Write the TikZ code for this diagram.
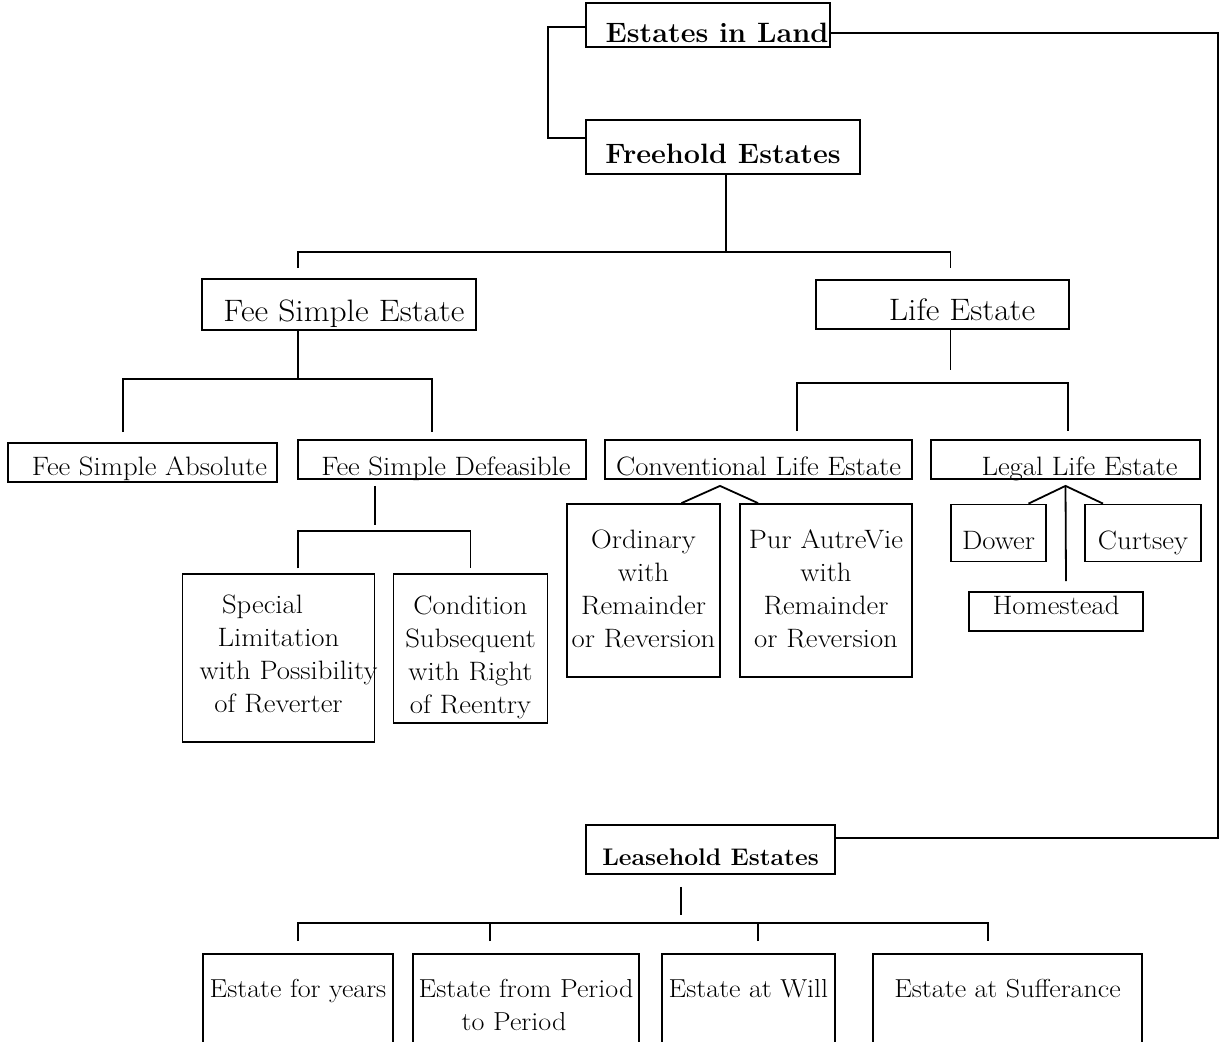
\documentclass[tikz,border=0pt]{standalone}
\usepackage{fontspec}
\setmainfont{Latin Modern Roman}[FakeStretch=1.08]
\newfontfamily\headfont{Latin Modern Roman}[FakeStretch=1.03]
\tikzset{
	box/.style={draw, line width=1.8pt, inner sep=0pt, text depth=0pt},
	headbox/.style={box, font=\headfont\fontsize{28}{33}\selectfont\bfseries},
	leasehead/.style={box, font=\headfont\fontsize{24}{30}\selectfont\bfseries},
	kindbox/.style={box, font=\fontsize{31}{36}\selectfont},
	leafbox/.style={box, font=\fontsize{26.6}{33}\selectfont},
	tallbox/.style={box, font=\fontsize{26.6}{33}\selectfont, align=center, text height=20pt},
	leasebox/.style={box, anchor=north, font=\fontsize{26}{33}\selectfont, align=center, text height=43.7pt, text depth=150pt},
	link/.style={line width=1.8pt}
}

\begin{document}
\begin{tikzpicture}[x=1pt, y=-1pt]
		%%%%% START %%%%%
		\useasboundingbox (0,0) rectangle (1220,1041);
		\clip (0,0) rectangle (1220,1041);
		
		\node[headbox, minimum width=244pt, minimum height=44pt, text height=36.6pt] (land) at (708,24.7) {\hspace*{18pt}Estates in Land};
		\node[headbox, minimum width=274pt, minimum height=54pt, text height=32pt] (freehold) at (723,147) {Freehold Estates};
		\node[leasehead, minimum width=249pt, minimum height=49pt, text height=31pt] (leasehold) at (710.5,849.5) {Leasehold Estates};
		
		\node[kindbox, minimum width=274pt, minimum height=51pt, text height=34.4pt] (feesimple) at (339,304.5) {\hspace*{10pt}Fee Simple Estate};
		\node[kindbox, minimum width=253pt, minimum height=49pt, text height=32.4pt] (life) at (942.5,304.5) {\hspace*{39pt}Life Estate};
		
		\node[leafbox, minimum width=269pt, minimum height=39pt, text height=25pt] (absolute) at (142.5,462.5) {\hspace*{14pt}Fee Simple Absolute};
		\node[leafbox, minimum width=288pt, minimum height=39pt, text height=31pt] (defeasible) at (442,459.5) {\hspace*{8pt}Fee Simple Defeasible};
		\node[leafbox, minimum width=307pt, minimum height=39pt, text height=31pt] (conventional) at (758.5,459.5) {Conventional Life Estate};
		\node[leafbox, minimum width=269pt, minimum height=39pt, text height=31pt] (legal) at (1065.5,459.5) {\hspace*{28pt}Legal Life Estate};
		
		\node[tallbox, minimum width=192pt, minimum height=167.5pt, text width=190pt, text depth=109.4pt] (special) at (278.5,658) {\mbox{Special\hspace{32pt}}\\Limitation\\\mbox{\hspace{16pt}with Possibility}\\of Reverter};
		\node[tallbox, minimum width=154pt, minimum height=148.5pt, text width=152pt, text depth=89pt] (condition) at (470.5,648.5) {Condition\\Subsequent\\with Right\\of Reentry};
		\node[tallbox, minimum width=153pt, minimum height=173pt, text width=151pt, text depth=104.4pt] (ordinary) at (643.5,590.5) {Ordinary\\with\\Remainder\\\mbox{or Reversion}};
		\node[tallbox, minimum width=172pt, minimum height=173pt, text width=170pt, text depth=104.4pt] (autre) at (826,590.5) {\mbox{Pur AutreVie}\\with\\Remainder\\\mbox{or Reversion}};
		
		\node[leafbox, minimum width=95pt, minimum height=57pt, text height=32.6pt] (dower) at (998.5,533) {Dower};
		\node[leafbox, minimum width=116pt, minimum height=57pt, text height=32.6pt] (curtsey) at (1143,533) {Curtsey};
		\node[leafbox, minimum width=174pt, minimum height=39pt, text height=5pt] (homestead) at (1056,611.5) {Homestead};
		
		\node[leasebox, minimum width=190pt] (years) at (298,953) {Estate for years};
		\node[leasebox, minimum width=226pt, text width=224pt] (period) at (526,953) {Estate from Period\\\mbox{to Period\hspace{24pt}}};
		\node[leasebox, minimum width=173pt] (will) at (748.5,953) {Estate at Will};
		\node[leasebox, minimum width=269pt] (sufferance) at (1007.5,953) {Estate at Sufferance};
		
		\draw[link] ([yshift=-2pt]land.west) -- ++(-37,0) |- ([yshift=9pt]freehold.west);
		\coordinate (rail) at (1218,838);
		\draw[link] ([yshift=-8pt]land.east) -| (rail) -- ([yshift=11.5pt]leasehold.east);
		
		\draw[link] ([xshift=3pt]freehold.south) -- ++(0,76.7) coordinate (fhj);
		\draw[link] ([xshift=-41pt,yshift=10pt]feesimple.north) |- (fhj) -| ([xshift=8pt,yshift=11pt]life.north);
		
		\draw[link] ([xshift=-41pt]feesimple.south) -- ++(0,48) coordinate (fsj);
		\draw[link] ([xshift=-19.5pt,yshift=10pt]absolute.north) |- (fsj) -| ([xshift=-10pt,yshift=7pt]defeasible.north);
		
		\draw[link] ([xshift=-67pt,yshift=-6pt]defeasible.south) -- ++(0,39) coordinate (fdj);
		\draw[link] ([xshift=19.5pt,yshift=5pt]special.north) |- ([yshift=-6pt]fdj) -| ([yshift=5pt]condition.north);
		
		\draw[link] ([xshift=8pt]life.south) -- ++(0,40) coordinate (lfj);
		\draw[link] ([xshift=38.5pt,yshift=8pt]conventional.north) |- ([yshift=-12.7pt]lfj) -| ([xshift=2.5pt,yshift=8pt]legal.north);
		
		\draw[link] ([xshift=38pt]ordinary.north) -- ([xshift=-38.5pt,yshift=-6pt]conventional.south) -- ([xshift=-68pt]autre.north);
		\draw[link] ([xshift=30pt]dower.north) -- ([yshift=-6pt]legal.south) coordinate (llj) -- ([xshift=-40pt]curtsey.north);
		\draw[link] (llj) -- ([xshift=10pt,yshift=10pt]homestead.north);
		
		\draw[link] ([xshift=-29.5pt,yshift=-12pt]leasehold.south) -- ++(0,28) coordinate (lsj);
		\draw[link] ([yshift=12pt]years.north) |- ([yshift=-8pt]lsj) -| ([xshift=-19.5pt,yshift=12pt]sufferance.north);
		\draw[link] ([xshift=-36pt,yshift=12pt]period.north) -- ++(0,-19);
		\draw[link] ([xshift=9.5pt,yshift=12pt]will.north) -- ++(0,-19);
		
		%%%%% END %%%%%
\end{tikzpicture}
\end{document}
